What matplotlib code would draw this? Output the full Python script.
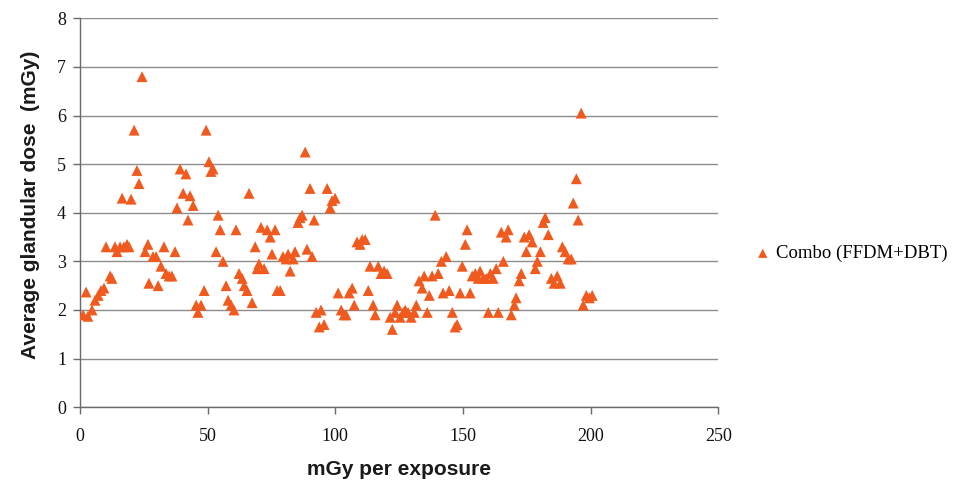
import matplotlib
matplotlib.use("Agg")
import matplotlib.pyplot as plt

# mGy per exposure (x) and average glandular dose (y)
mgy_per_exposure = [
    1.2, 2.4, 3.1, 4.7, 5.9, 7.1, 8.2, 9.4, 10.2, 11.8, 12.5, 13.7, 14.5, 15.7, 16.5, 17.2,
    18.4, 19.2, 20.0, 21.2, 22.3, 23.1, 24.3, 25.5, 26.6, 27.0, 28.6, 29.8, 30.6, 31.7,
    32.9, 33.7, 34.9, 36.0, 37.2, 38.0, 39.2, 40.4, 41.5, 42.3, 43.1, 44.3, 45.5, 46.2,
    47.4, 48.6, 49.4, 50.5, 51.3, 52.1, 53.3, 54.1, 54.9, 56.0, 57.2, 58.0, 59.2, 60.3,
    61.1, 62.3, 63.5, 64.3, 65.4, 66.2, 67.4, 68.6, 69.4, 70.1, 70.9, 72.1, 73.3, 74.5,
    75.2, 76.4, 77.2, 78.4, 79.5, 80.7, 81.5, 82.3, 83.5, 84.2, 85.4, 86.2, 87.0, 88.2,
    88.9, 90.1, 90.9, 91.7, 92.5, 93.7, 94.4, 95.6, 96.8, 98.0, 98.7, 99.9, 101.1, 102.3,
    103.4, 104.2, 105.4, 106.6, 107.4, 108.5, 109.7, 110.5, 111.7, 112.9, 113.6, 114.8,
    115.6, 116.8, 117.9, 119.1, 120.3, 121.5, 122.3, 123.4, 124.2, 125.4, 126.6, 127.4,
    128.5, 129.7, 130.9, 131.7, 132.8, 134.0, 134.8, 136.0, 136.8, 137.9, 139.1, 140.3,
    141.5, 142.2, 143.4, 144.6, 145.8, 146.9, 147.7, 148.9, 149.7, 150.9, 151.6, 152.8,
    153.6, 154.8, 156.0, 156.7, 157.9, 159.1, 159.9, 160.7, 161.8, 163.0, 163.8, 165.0,
    165.8, 166.9, 167.7, 168.9, 170.1, 170.8, 172.0, 172.8, 174.0, 174.8, 175.9, 177.1,
    178.3, 179.1, 180.3, 181.4, 182.2, 183.4, 184.6, 185.7, 186.9, 188.1, 188.9, 190.0,
    191.2, 192.4, 193.2, 194.4, 195.1, 196.3, 197.1, 198.3, 199.5, 200.6,
]
avg_glandular_dose = [
    1.90, 2.37, 1.87, 2.00, 2.20, 2.30, 2.40, 2.45, 3.30, 2.70, 2.65, 3.30, 3.20, 3.30, 4.30, 3.30,
    3.35, 3.30, 4.28, 5.70, 4.87, 4.60, 6.80, 3.20, 3.35, 2.55, 3.10, 3.10, 2.50, 2.90,
    3.30, 2.75, 2.70, 2.70, 3.20, 4.10, 4.90, 4.40, 4.80, 3.85, 4.35, 4.15, 2.10, 1.95,
    2.10, 2.40, 5.70, 5.05, 4.85, 4.90, 3.20, 3.95, 3.65, 3.00, 2.50, 2.20, 2.10, 2.00,
    3.65, 2.75, 2.65, 2.50, 2.40, 4.40, 2.15, 3.30, 2.85, 2.95, 3.70, 2.85, 3.65, 3.50,
    3.15, 3.65, 2.40, 2.40, 3.10, 3.05, 3.15, 2.80, 3.05, 3.20, 3.80, 3.90, 3.95, 5.25,
    3.25, 4.50, 3.10, 3.85, 1.95, 1.65, 2.00, 1.70, 4.50, 4.10, 4.25, 4.30, 2.35, 2.00,
    1.90, 1.90, 2.35, 2.45, 2.10, 3.40, 3.35, 3.45, 3.45, 2.40, 2.90, 2.10,
    1.90, 2.90, 2.75, 2.80, 2.75, 1.85, 1.60, 1.95, 2.10, 1.85, 1.95, 2.00,
    1.95, 1.85, 1.95, 2.10, 2.60, 2.45, 2.70, 1.95, 2.30, 2.70, 3.95, 2.75,
    3.00, 2.35, 3.10, 2.40, 1.95, 1.65, 1.70, 2.35, 2.90, 3.35, 3.65, 2.35,
    2.70, 2.75, 2.65, 2.80, 2.65, 2.65, 1.95, 2.75, 2.65, 2.85, 1.95, 3.60,
    3.00, 3.50, 3.65, 1.90, 2.10, 2.25, 2.60, 2.75, 3.50, 3.20, 3.55, 3.40,
    2.85, 3.00, 3.20, 3.80, 3.90, 3.55, 2.65, 2.55, 2.70, 2.55, 3.30, 3.20,
    3.05, 3.05, 4.20, 4.70, 3.85, 6.05, 2.10, 2.30, 2.25, 2.30,
]

series_label = "Combo (FFDM+DBT)"
x_ticks = [0, 50, 100, 150, 200, 250]
y_ticks = [0, 1, 2, 3, 4, 5, 6, 7, 8]

fig = plt.figure(figsize=(9.57, 4.83), dpi=100)
ax = fig.add_axes([0.0836, 0.157, 0.667, 0.805])

ax.scatter(mgy_per_exposure, avg_glandular_dose, marker="^", s=62,
           color="#F05A1E", edgecolors="none", label=series_label, zorder=3)

ax.set_xlim(0, 250)
ax.set_ylim(0, 8)
ax.set_xticks(x_ticks)
ax.set_yticks(y_ticks)
ax.yaxis.grid(True, color="#8c8c8c", linewidth=1.0)
ax.set_axisbelow(True)
for side in ["top", "right"]:
    ax.spines[side].set_visible(False)
for side in ["left", "bottom"]:
    ax.spines[side].set_color("#6a6a6a")
    ax.spines[side].set_linewidth(1.0)
ax.tick_params(axis="both", colors="#6a6a6a", labelcolor="#111111",
               labelsize=13, length=5, width=1.0, direction="out")
ax.tick_params(axis="x", pad=10)
ax.tick_params(axis="y", pad=5)
for lab in ax.get_xticklabels() + ax.get_yticklabels():
    lab.set_family("Liberation Serif")

ax.set_xlabel("mGy per exposure", fontsize=15, fontweight="bold",
              family="Liberation Sans", color="#1a1a1a", labelpad=11)
ax.set_ylabel("Average glandular dose  (mGy)", fontsize=15, fontweight="bold",
              family="Liberation Sans", color="#1a1a1a")
ax.yaxis.set_label_coords(-0.063, 0.52)

leg = ax.legend(loc="center left", bbox_to_anchor=(1.049, 0.395), frameon=False,
                prop={"family": "Liberation Serif", "size": 13.5},
                handletextpad=0.2, markerscale=0.85, handlelength=1.0,
                borderpad=0.2, borderaxespad=0.0)

fig.savefig("out.png", dpi=100)
